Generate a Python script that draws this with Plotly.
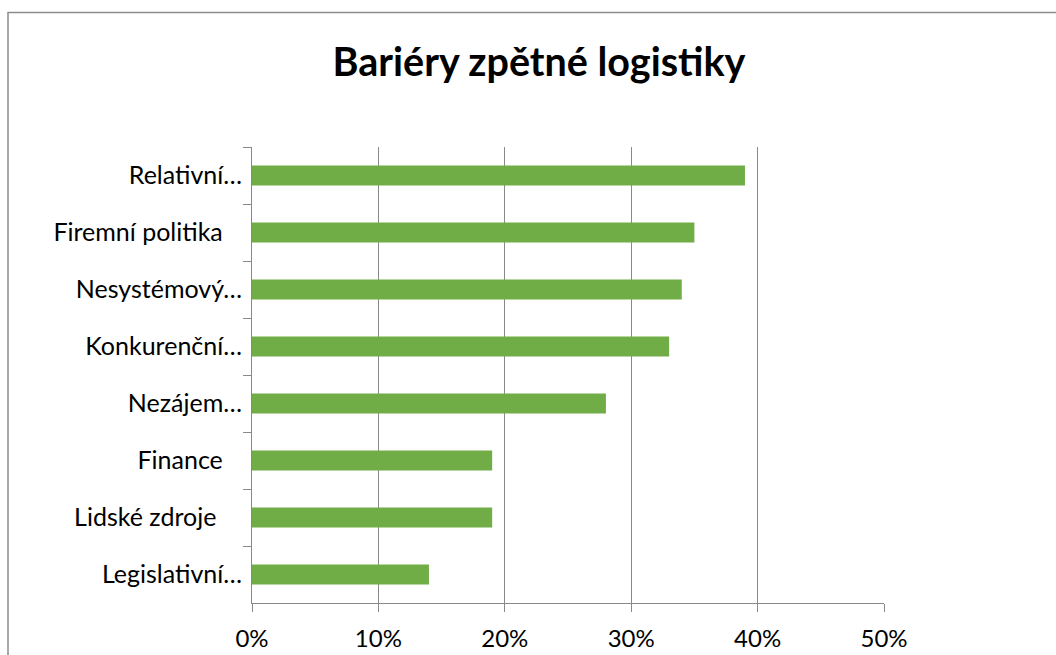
import plotly.graph_objects as go

NB = "\u00a0"
categories = ["Relativní…", "Firemní politika" + NB * 3, "Nesystémový…", "Konkurenční…",
              "Nezájem…", "Finance" + NB * 3, "Lidské zdroje" + NB * 4, "Legislativní…"]
values = [39, 35, 34, 33, 28, 19, 19, 14]
x_ticks = [0, 10, 20, 30, 40, 50]
x_tick_labels = ["0%", "10%", "20%", "30%", "40%", "50%"]
title_text = "Bariéry zpětné logistiky"

W, H = 1056, 655
L, R, T, B = 252, 172, 147, 52
pw, ph = W - L - R, H - T - B

FONT = "Lato, Open Sans, sans-serif"
GRAY = "#898989"

fig = go.Figure(go.Bar(
    y=categories, x=values, orientation="h",
    marker=dict(color="#70AD47", line=dict(width=0)),
))

def px_to_paper_x(px):
    return (px - L) / pw

def px_to_paper_y(py):
    return (H - B - py) / ph

fig.update_layout(
    width=W, height=H,
    margin=dict(l=L, r=R, t=T, b=B, autoexpand=False),
    paper_bgcolor="white", plot_bgcolor="white",
    bargap=0.65,
    showlegend=False,
    font=dict(family=FONT, color="#000000", size=25),
    title=dict(text="<b>" + title_text + "</b>", x=539 / W, xref="container",
               xanchor="center", y=1 - 62 / H, yref="container", yanchor="middle",
               font=dict(family=FONT, size=39.5, color="#000000")),
    xaxis=dict(range=[0, 50], tickvals=x_ticks, ticktext=x_tick_labels,
               showgrid=True, gridcolor=GRAY, gridwidth=1,
               showline=True, linecolor=GRAY, linewidth=1,
               ticks="outside", ticklen=8, tickcolor=GRAY,
               ticklabelstandoff=6, zeroline=False, automargin=False,
               tickfont=dict(size=24)),
    yaxis=dict(autorange="reversed", showgrid=False,
               showline=True, linecolor=GRAY, linewidth=1,
               ticks="outside", ticklen=8, tickcolor=GRAY,
               tickson="boundaries", zeroline=False, automargin=False,
               ticklabelstandoff=4,
               tickfont=dict(size=25)),
    shapes=[dict(type="rect", xref="paper", yref="paper",
                 x0=px_to_paper_x(8), x1=px_to_paper_x(1070),
                 y0=px_to_paper_y(670), y1=px_to_paper_y(12.5),
                 line=dict(color="#8c8c8c", width=1.5), layer="below")],
)

fig.write_html("out.html")
